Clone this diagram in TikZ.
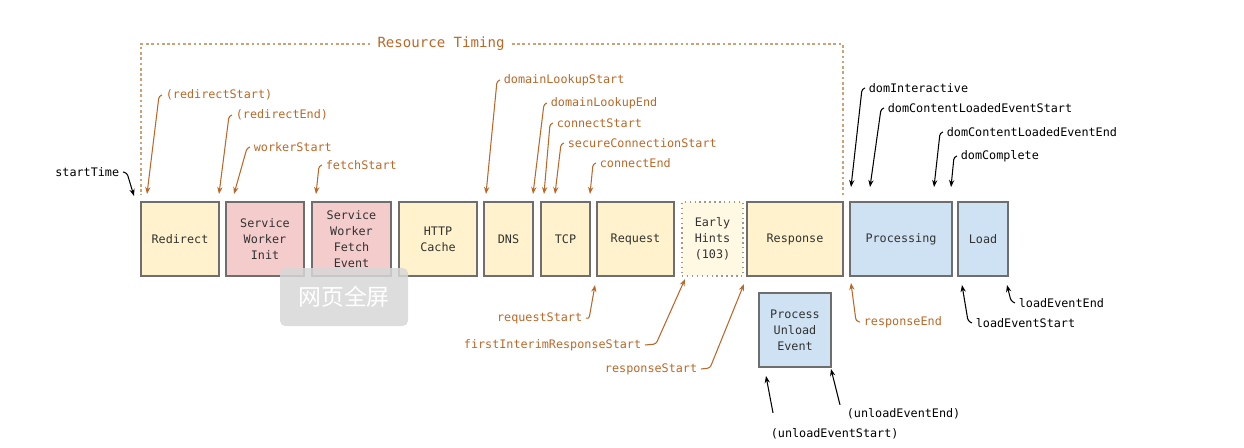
\documentclass[tikz,border=0pt]{standalone}
\usepackage{fontspec}
\setmonofont{DejaVu Sans Mono}
\newfontfamily\cjkfont{Noto Sans CJK SC}
\usepackage{xcolor}
\definecolor{rtorange}{RGB}{186,104,40}
\definecolor{rtframe}{RGB}{205,160,120}
\definecolor{yelfill}{RGB}{255,242,204}
\definecolor{pnkfill}{RGB}{244,204,204}
\definecolor{blufill}{RGB}{207,226,243}
\definecolor{hintfill}{RGB}{255,248,226}
\definecolor{boxline}{RGB}{110,110,110}
\definecolor{boxtext}{RGB}{50,50,50}
\tikzset{
  box/.style={draw=boxline, line width=0.8pt, inner sep=0pt, align=center,
              font=\ttfamily\fontsize{6.7}{9}\selectfont, text=boxtext,
              minimum height=14.8mm},
  yel/.style={box, fill=yelfill},
  pnk/.style={box, fill=pnkfill},
  blu/.style={box, fill=blufill},
  hint/.style={box, fill=hintfill, draw=boxline!70, dotted},
  lab/.style={font=\ttfamily\fontsize{6.7}{8}\selectfont, inner sep=2pt},
  olab/.style={lab, text=rtorange},
  blab/.style={lab, text=black},
  oarr/.style={draw=rtorange, line width=0.6pt, rounded corners=1.5pt,
               -{Stealth[length=4pt,width=3pt]}},
  barr/.style={oarr, draw=black},
  frame/.style={draw=rtframe, line width=0.6pt, dash pattern=on 1.5pt off 1.5pt}
}
\usetikzlibrary{arrows.meta,positioning}

\begin{document}
\begin{tikzpicture}[x=0.2mm, y=-0.2mm]
  \useasboundingbox (0,0) rectangle (1244,448);
  \def\blk#1#2#3#4#5{%
    \node[#4, minimum width={(#3-#2)*0.2mm}] (#1) at ({(#2+#3)/2},239) {#5};
  }

  % Resource Timing frame
  \node[font=\ttfamily\fontsize{8}{9}\selectfont, text=rtorange, inner sep=4pt] (rt) at (441,44) {Resource Timing};
  \draw[frame] (rt.west) -- (141,44) -- (141,195);
  \draw[frame] (rt.east) -- (843,44) -- (843,195);

  % phases
  \blk{redir}{141}{219}{yel}{Redirect}
  \blk{swinit}{226}{304}{pnk}{Service\\Worker\\Init}
  \blk{swfetch}{312}{391}{pnk}{Service\\Worker\\Fetch\\Event}
  \blk{cache}{399}{477}{yel}{HTTP\\Cache}
  \blk{dns}{484}{533}{yel}{DNS}
  \blk{tcp}{541}{590}{yel}{TCP}
  \blk{req}{597}{674}{yel}{Request}
  \blk{hints}{682}{743}{hint}{Early\\Hints\\(103)}
  \blk{resp}{747}{843}{yel}{Response}
  \blk{proc}{850}{952}{blu}{Processing}
  \blk{load}{958}{1008}{blu}{Load}
  \node[blu, minimum width=14.4mm] (unload) at (795,330) {Process\\Unload\\Event};

  % marks above the phases
  \foreach \n/\t/\lx/\ly/\tx in {
    rs/{(redirectStart)}/165/95/147, re/{(redirectEnd)}/235/115/219,
    ws/workerStart/253/147/234, fs/fetchStart/325/165/316,
    dls/domainLookupStart/503/80/486, dle/domainLookupEnd/550/103/533,
    cs/connectStart/556/123/544, scs/secureConnectionStart/567/143/555,
    ce/connectEnd/599/163/590
  }{
    \coordinate (\n-t) at (\tx,194);
    \node[olab, anchor=west] (\n) at (\lx-3,\ly) {\t};
    \draw[oarr] (\n.west) -- ++(-3,1) -- (\n-t);
  }
  \foreach \n/\t/\lx/\ly/\tx in {
    di/domInteractive/868/88/851, dcls/domContentLoadedEventStart/887/108/870,
    dcle/domContentLoadedEventEnd/946/132/934, dc/domComplete/960/156/951
  }{
    \coordinate (\n-t) at (\tx,187);
    \node[blab, anchor=west] (\n) at (\lx-3,\ly) {\t};
    \draw[barr] (\n.west) -- ++(-3,1) -- (\n-t);
  }
  \coordinate (st-t) at (134,196);
  \node[blab, anchor=east] (st) at (123,172) {startTime};
  \draw[barr] (st.east) -- ++(4,1) -- (st-t);

  % marks below the phases
  \coordinate (rqs-t) at (595,285);
  \coordinate (firs-t) at (685,279);
  \coordinate (rsps-t) at (744,284);
  \coordinate (rspe-t) at (851,283);
  \coordinate (les-t) at (962,285);
  \coordinate (lee-t) at (1007,285);
  \coordinate (ues-t) at (766,376);
  \coordinate (uee-t) at (831,369);
  \node[olab, anchor=east] (rqs) at (586,318) {requestStart};
  \node[olab, anchor=east] (firs) at (645,345) {firstInterimResponseStart};
  \node[olab, anchor=east] (rsps) at (701,369) {responseStart};
  \node[olab, anchor=west] (rspe) at (860,322) {responseEnd};
  \node[blab, anchor=west] (les) at (972,323) {loadEventStart};
  \node[blab, anchor=west] (lee) at (1015,303) {loadEventEnd};
  \node[blab, anchor=west] (ues) at (767,434) {(unloadEventStart)};
  \node[blab, anchor=west] (uee) at (843,414) {(unloadEventEnd)};
  \draw[oarr] (rqs.east) -- ++(3,1) -- (rqs-t);
  \draw[oarr] (firs.east) -- ++(11,-1) -- (firs-t);
  \draw[oarr] (rsps.east) -- ++(9,-1) -- (rsps-t);
  \draw[oarr] (rspe.west) -- ++(-4,-1) -- (rspe-t);
  \draw[barr] (les.west) -- ++(-4,-2) -- (les-t);
  \draw[barr] (lee.west) -- ++(-4,-2) -- (lee-t);
  \draw[barr] (ues.north west) ++(6,-12) -- (ues-t);
  \draw[barr] (uee.north west) ++(-3,0) -- (uee-t);

  % player overlay
  \node[fill={rgb,255:red,215;green,215;blue,215}, fill opacity=0.85, text opacity=1,
        rounded corners=3pt, minimum width=25.6mm, minimum height=11.6mm, text=white,
        font=\cjkfont\fontsize{13}{13}\selectfont] (wm) at (344,297) {网页全屏};
\end{tikzpicture}
\end{document}
